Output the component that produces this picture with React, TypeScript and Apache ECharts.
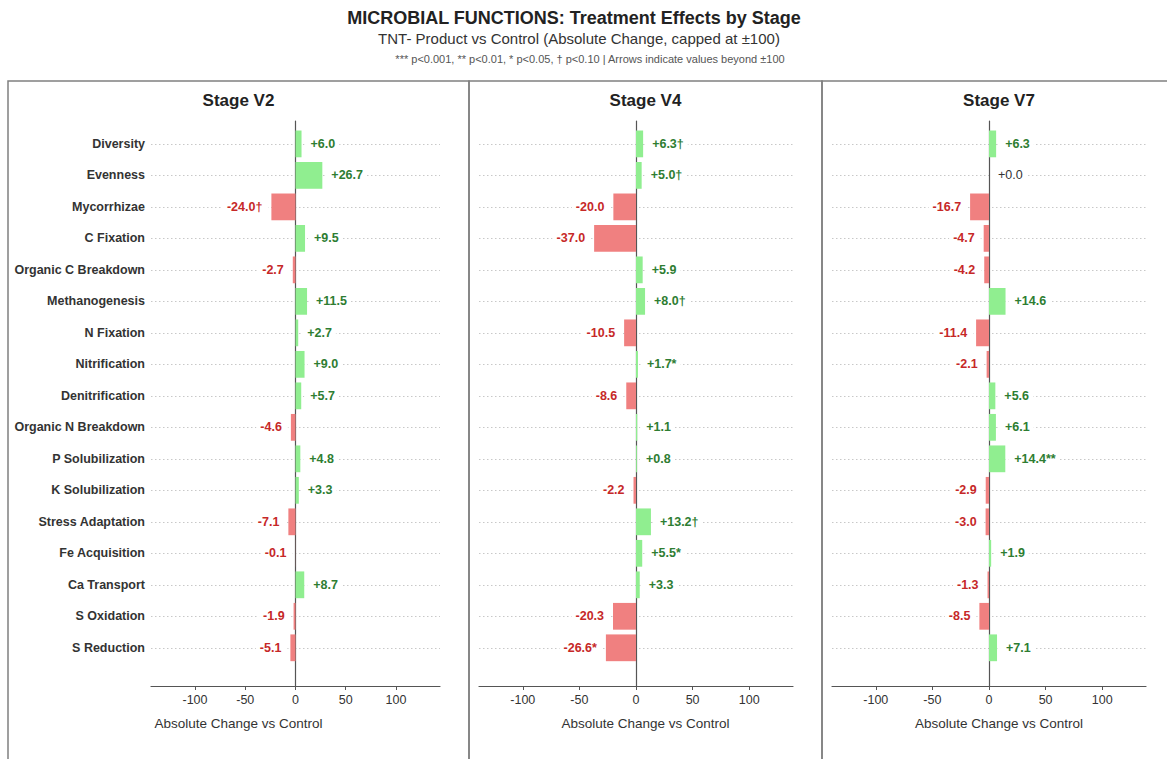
import React, { useEffect, useRef } from 'react';
import * as echarts from 'echarts';

const categories = [
  'Diversity', 'Evenness', 'Mycorrhizae', 'C Fixation', 'Organic C Breakdown',
  'Methanogenesis', 'N Fixation', 'Nitrification', 'Denitrification', 'Organic N Breakdown',
  'P Solubilization', 'K Solubilization', 'Stress Adaptation', 'Fe Acquisition',
  'Ca Transport', 'S Oxidation', 'S Reduction',
];

const v2Values = [6.0, 26.7, -24.0, 9.5, -2.7, 11.5, 2.7, 9.0, 5.7, -4.6, 4.8, 3.3, -7.1, -0.1, 8.7, -1.9, -5.1];
const v2Sig = ['', '', '†', '', '', '', '', '', '', '', '', '', '', '', '', '', ''];

const v4Values = [6.3, 5.0, -20.0, -37.0, 5.9, 8.0, -10.5, 1.7, -8.6, 1.1, 0.8, -2.2, 13.2, 5.5, 3.3, -20.3, -26.6];
const v4Sig = ['†', '†', '', '', '', '†', '', '*', '', '', '', '', '†', '*', '', '', '*'];

const v7Values = [6.3, 0.0, -16.7, -4.7, -4.2, 14.6, -11.4, -2.1, 5.6, 6.1, 14.4, -2.9, -3.0, 1.9, -1.3, -8.5, 7.1];
const v7Sig = ['', '', '', '', '', '', '', '', '', '', '**', '', '', '', '', '', ''];

const stageNames = ['Stage V2', 'Stage V4', 'Stage V7'];
const xTicks = [-100, -50, 0, 50, 100];

const mainTitle = 'MICROBIAL FUNCTIONS: Treatment Effects by Stage';
const subTitle = 'TNT- Product vs Control (Absolute Change, capped at ±100)';
const noteText = '*** p<0.001, ** p<0.01, * p<0.05, † p<0.10 | Arrows indicate values beyond ±100';
const xAxisName = 'Absolute Change vs Control';

const FONT = '"Liberation Sans", Arial, Helvetica, sans-serif';
const GREEN_BAR = '#90ee90';
const RED_BAR = '#f08080';
const GREEN_TXT = '#2e7d32';
const RED_TXT = '#c62828';

const stageValues = [v2Values, v4Values, v7Values];
const stageSigs = [v2Sig, v4Sig, v7Sig];

// layout (pixels)
const grids = [
  { left: 151, top: 121, width: 289, height: 565 },
  { left: 479, top: 121, width: 314, height: 565 },
  { left: 832, top: 121, width: 314, height: 565 },
];
const xHalfRange = [143.8, 138.7, 138.7];
const panels = [
  { x: 8, w: 461 },
  { x: 469, w: 353 },
  { x: 822, w: 354 },
];

function fmt(v: number, sig: string) {
  const s = (v >= 0 ? '+' : '') + v.toFixed(1);
  return s + sig;
}

export default function App() {
  const ref = useRef<HTMLDivElement>(null);
  useEffect(() => {
    if (!ref.current) return;
    const chart = echarts.init(ref.current, undefined, { renderer: 'svg' });
    const catIdx = categories.map((_, i) => i);

    const makeRender = (s: number) => (params: any, api: any) => {
      const v = api.value(0) as number;
      const i = api.value(1) as number;
      const base = api.coord([0, i]);
      const end = api.coord([v, i]);
      const h = api.size([0, 0.85])[1];
      const label = fmt(v, stageSigs[s][params.dataIndex]);
      const txtColor = v > 0 ? GREEN_TXT : v < 0 ? RED_TXT : '#333';
      return {
        type: 'group',
        children: [
          {
            type: 'rect',
            shape: {
              x: Math.min(base[0], end[0]),
              y: base[1] - h / 2,
              width: Math.abs(end[0] - base[0]),
              height: h,
            },
            style: { fill: v >= 0 ? GREEN_BAR : RED_BAR },
          },
          {
            type: 'text',
            x: end[0] + (v >= 0 ? 3 : -3),
            y: end[1],
            style: {
              text: label,
              align: v >= 0 ? 'left' : 'right',
              verticalAlign: 'middle',
              fill: txtColor,
              fontSize: 12.5,
              fontWeight: v === 0 ? 'normal' : 'bold',
              fontFamily: FONT,
              backgroundColor: '#fff',
              padding: v >= 0 ? [1, 4, 1, 6] : [1, 6, 1, 4],
            },
          },
        ],
      };
    };

    const graphic: any[] = [];
    panels.forEach((p, k) => {
      graphic.push({
        type: 'rect',
        shape: { x: p.x, y: 81, width: p.w, height: 700 },
        style: { fill: 'none', stroke: '#808080', lineWidth: 1.5 },
        silent: true,
      });
      graphic.push({
        type: 'text',
        x: p.x + p.w / 2,
        y: 100,
        style: {
          text: stageNames[k],
          align: 'center',
          verticalAlign: 'middle',
          fill: '#222',
          fontSize: 17,
          fontWeight: 'bold',
          fontFamily: FONT,
        },
      });
      graphic.push({
        type: 'text',
        x: p.x + p.w / 2,
        y: 723,
        style: {
          text: xAxisName,
          align: 'center',
          verticalAlign: 'middle',
          fill: '#333',
          fontSize: 13.5,
          fontFamily: FONT,
        },
      });
    });
    graphic.push({
      type: 'text', x: 574, y: 18,
      style: { text: mainTitle, align: 'center', verticalAlign: 'middle', fill: '#222', fontSize: 18, fontWeight: 'bold', fontFamily: FONT },
    });
    graphic.push({
      type: 'text', x: 579, y: 38,
      style: { text: subTitle, align: 'center', verticalAlign: 'middle', fill: '#333', fontSize: 15, fontFamily: FONT },
    });
    graphic.push({
      type: 'text', x: 590, y: 59,
      style: { text: noteText, align: 'center', verticalAlign: 'middle', fill: '#555', fontSize: 11, fontFamily: FONT },
    });

    const option: any = {
      animation: false,
      backgroundColor: '#fff',
      grid: grids.map((g) => ({ ...g, containLabel: false })),
      xAxis: grids.map((_, k) => ({
        type: 'value',
        gridIndex: k,
        min: -xHalfRange[k],
        max: xHalfRange[k],
        axisLine: { show: true, onZero: false, lineStyle: { color: '#555', width: 1.2 } },
        axisTick: { show: true, customValues: xTicks, length: 4, lineStyle: { color: '#555' } },
        axisLabel: { customValues: xTicks, color: '#333', fontSize: 12.5, margin: 7, fontFamily: FONT },
        splitLine: { show: false },
      })),
      yAxis: grids.map((_, k) => ({
        type: 'value',
        gridIndex: k,
        inverse: true,
        min: -0.727,
        max: 17.213,
        axisLine: { show: true, onZero: true, lineStyle: { color: '#555', width: 1.2 } },
        axisTick: { show: false, customValues: catIdx },
        axisLabel: {
          show: k === 0,
          customValues: catIdx,
          formatter: (v: number) => categories[Math.round(v)] ?? '',
          color: '#333',
          fontWeight: 'bold',
          fontSize: 12.5,
          margin: 6,
          fontFamily: FONT,
        },
        splitLine: { show: true, lineStyle: { type: [1.5, 2.5], color: '#c8c8c8', width: 1 } },
      })),
      graphic,
      series: stageValues.map((vals, k) => ({
        type: 'custom',
        xAxisIndex: k,
        yAxisIndex: k,
        encode: { x: 0, y: 1 },
        clip: false,
        data: vals.map((v, i) => [v, i]),
        renderItem: makeRender(k),
      })),
    };
    chart.setOption(option);
    return () => chart.dispose();
  }, []);
  return (
    <div
      ref={ref}
      style={{ position: 'fixed', left: 0, top: 0, width: 1167, height: 759, background: '#fff' }}
    />
  );
}
